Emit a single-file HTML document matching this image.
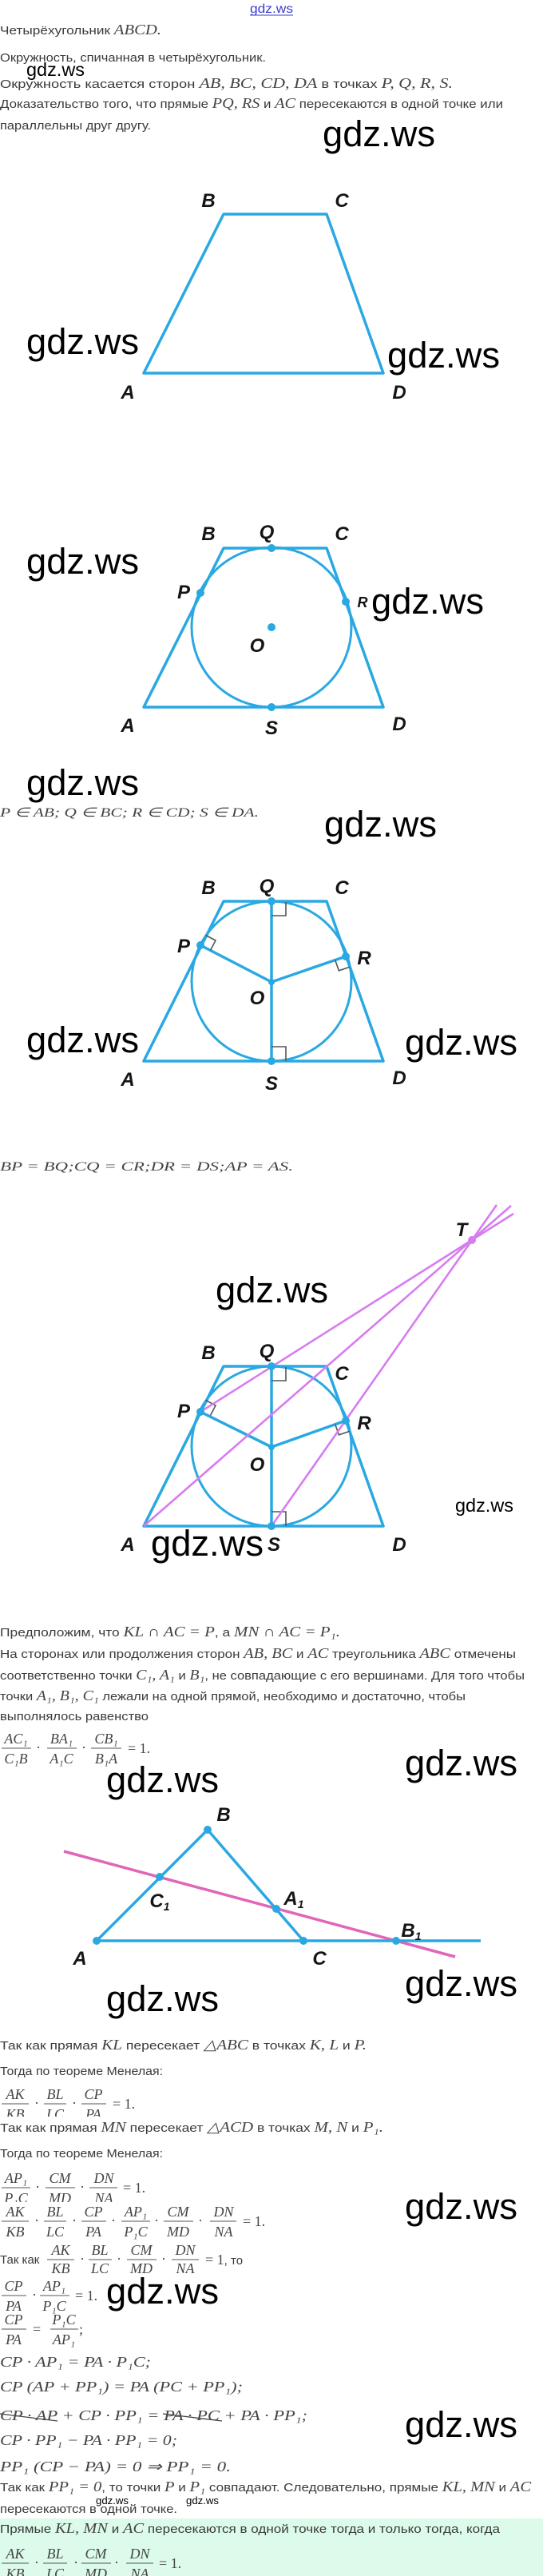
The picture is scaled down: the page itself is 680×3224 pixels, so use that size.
<!DOCTYPE html>
<html><head><meta charset="utf-8">
<style>
html,body{margin:0;padding:0;background:#fff;}
svg{display:block;}
.s{font-family:"Liberation Sans",sans-serif;font-size:15px;fill:#3a3a3a;}
.m{font-family:"Liberation Serif",serif;font-style:italic;font-size:18px;fill:#444;}
.n{font-family:"Liberation Serif",serif;font-style:normal;font-size:18px;fill:#444;}
.L{font-family:"Liberation Sans Narrow","Liberation Sans",sans-serif;font-style:italic;font-weight:bold;font-size:24px;fill:#151515;text-anchor:middle;}
.W{font-family:"Liberation Sans",sans-serif;fill:#000;}
.f{font-family:"Liberation Serif",serif;font-style:italic;font-size:18px;fill:#444;text-anchor:middle;}
.b{stroke:#2aa8e2;stroke-width:3.5;fill:none;stroke-linejoin:round;}
.c{stroke:#2aa8e2;stroke-width:3;fill:none;}
.d{fill:#2aa8e2;}
.v{stroke:#d77cf0;stroke-width:2.6;fill:none;}
.ra{stroke:#555;stroke-width:1.6;fill:none;}
.fb{stroke:#555;stroke-width:1;}
</style></head>
<body>
<svg width="680" height="3224" viewBox="0 0 680 3224" xmlns="http://www.w3.org/2000/svg">
<rect x="0" y="0" width="680" height="3224" fill="#fff"/>
<rect x="0" y="3152" width="680" height="72" fill="#dcfbea"/>

<!-- top link -->
<text x="313" y="16" font-family="Liberation Sans,sans-serif" font-size="16" fill="#3b3bd0" textLength="54" lengthAdjust="spacingAndGlyphs">gdz.ws</text>
<line x1="313" y1="19" x2="367" y2="19" stroke="#3b3bd0" stroke-width="1"/>

<!-- intro text -->
<text x="0" y="43" textLength="202" lengthAdjust="spacingAndGlyphs"><tspan class="s">Четырёхугольник </tspan><tspan class="m">ABCD.</tspan></text>
<text x="0" y="77" class="s" textLength="333" lengthAdjust="spacingAndGlyphs">Окружность, спичанная в четырёхугольник.</text>
<text x="0" y="110" textLength="567" lengthAdjust="spacingAndGlyphs"><tspan class="s">Окружность касается сторон </tspan><tspan class="m">AB, BC, CD, DA</tspan><tspan class="s"> в точках </tspan><tspan class="m">P, Q, R, S.</tspan></text>
<text x="0" y="135" textLength="630" lengthAdjust="spacingAndGlyphs"><tspan class="s">Доказательство того, что прямые </tspan><tspan class="m">PQ, RS</tspan><tspan class="s"> и </tspan><tspan class="m">AC</tspan><tspan class="s"> пересекаются в одной точке или</tspan></text>
<text x="0" y="162" class="s" textLength="189" lengthAdjust="spacingAndGlyphs">параллельны друг другу.</text>

<!-- Figure 1 -->
<polygon class="b" points="180,467 280,268 409,268 480,467"/>
<text class="L" x="261" y="259">B</text><text class="L" x="428" y="259">C</text>
<text class="L" x="160" y="499">A</text><text class="L" x="500" y="499">D</text>

<!-- Figure 2 -->
<polygon class="b" points="180,885 280,686 409,686 480,885"/>
<circle class="c" cx="340" cy="785" r="100"/>
<circle class="d" cx="340" cy="686" r="5"/><circle class="d" cx="251" cy="742" r="5"/>
<circle class="d" cx="433" cy="753" r="5"/><circle class="d" cx="340" cy="885" r="5"/>
<circle class="d" cx="340" cy="785" r="5"/>
<text class="L" x="261" y="676">B</text><text class="L" x="334" y="674">Q</text><text class="L" x="428" y="676">C</text>
<text class="L" x="230" y="749">P</text><text class="L" x="454" y="760" style="font-size:18px">R</text>
<text class="L" x="322" y="816">O</text>
<text class="L" x="160" y="916">A</text><text class="L" x="340" y="919">S</text><text class="L" x="500" y="914">D</text>

<text x="0" y="1022" class="m" textLength="324" lengthAdjust="spacingAndGlyphs" style="font-size:16px">P ∈ AB; Q ∈ BC; R ∈ CD; S ∈ DA.</text>

<!-- Figure 3 -->
<polygon class="b" points="180,1328 280,1128 409,1128 480,1328"/>
<circle class="c" cx="340" cy="1228" r="100"/>
<line class="b" x1="340" y1="1128" x2="340" y2="1328"/>
<polyline class="b" points="251,1183 340,1229 433,1197"/>
<path class="ra" d="M340,1146 H358 V1129 M340,1310 H358 V1328 M263.5,1189.4 L270,1177 L257.6,1170.5 M419.7,1201.6 L424.4,1214.8 L437.8,1210.2"/>
<circle class="d" cx="340" cy="1128" r="5"/><circle class="d" cx="251" cy="1183" r="5"/>
<circle class="d" cx="433" cy="1197" r="5"/><circle class="d" cx="340" cy="1328" r="5"/>
<circle class="d" cx="340" cy="1229" r="4"/>
<text class="L" x="261" y="1119">B</text><text class="L" x="334" y="1117">Q</text><text class="L" x="428" y="1119">C</text>
<text class="L" x="230" y="1192">P</text><text class="L" x="456" y="1207">R</text><text class="L" x="322" y="1257">O</text>
<text class="L" x="160" y="1359">A</text><text class="L" x="340" y="1364">S</text><text class="L" x="500" y="1357">D</text>

<text x="0" y="1465" class="m" textLength="367" lengthAdjust="spacingAndGlyphs" style="font-size:16px">BP = BQ;CQ = CR;DR = DS;AP = AS.</text>

<!-- Figure 4 -->
<polygon class="b" points="180,1910 280,1710 409,1710 480,1910"/>
<circle class="c" cx="340" cy="1810" r="100"/>
<line class="b" x1="340" y1="1710" x2="340" y2="1910"/>
<polyline class="b" points="251,1767 340,1811 433,1778"/>
<path class="ra" d="M340,1728 H358 V1711 M340,1892 H358 V1910 M263.5,1771.4 L270,1759 L257.6,1752.5 M419.7,1782.6 L424.4,1795.8 L437.8,1791.2"/>
<line class="v" x1="251" y1="1767" x2="643" y2="1519"/>
<line class="v" x1="180" y1="1910" x2="640" y2="1509"/>
<line class="v" x1="340" y1="1910" x2="622" y2="1508"/>
<circle cx="591" cy="1552" r="5" fill="#d77cf0"/>
<circle class="d" cx="340" cy="1710" r="5"/><circle class="d" cx="251" cy="1767" r="5"/>
<circle class="d" cx="433" cy="1778" r="5"/><circle class="d" cx="340" cy="1910" r="5"/>
<circle class="d" cx="340" cy="1811" r="4"/>
<text class="L" x="578" y="1547">T</text>
<text class="L" x="261" y="1701">B</text><text class="L" x="334" y="1699">Q</text><text class="L" x="428" y="1727">C</text>
<text class="L" x="230" y="1774">P</text><text class="L" x="456" y="1789">R</text><text class="L" x="322" y="1841">O</text>
<text class="L" x="160" y="1941">A</text><text class="L" x="343" y="1941">S</text><text class="L" x="500" y="1941">D</text>

<!-- Menelaus text -->
<text x="0" y="2048" textLength="426" lengthAdjust="spacingAndGlyphs"><tspan class="s">Предположим, что </tspan><tspan class="m">KL ∩ AC = P</tspan><tspan class="s">, а </tspan><tspan class="m">MN ∩ AC = P₁.</tspan></text>
<text x="0" y="2075" textLength="646" lengthAdjust="spacingAndGlyphs"><tspan class="s">На сторонах или продолжения сторон </tspan><tspan class="m">AB, BC</tspan><tspan class="s"> и </tspan><tspan class="m">AC</tspan><tspan class="s"> треугольника </tspan><tspan class="m">ABC</tspan><tspan class="s"> отмечены</tspan></text>
<text x="0" y="2102" textLength="657" lengthAdjust="spacingAndGlyphs"><tspan class="s">соответственно точки </tspan><tspan class="m">C₁, A₁</tspan><tspan class="s"> и </tspan><tspan class="m">B₁</tspan><tspan class="s">, не совпадающие с его вершинами. Для того чтобы</tspan></text>
<text x="0" y="2128" textLength="583" lengthAdjust="spacingAndGlyphs"><tspan class="s">точки </tspan><tspan class="m">A₁, B₁, C₁</tspan><tspan class="s"> лежали на одной прямой, необходимо и достаточно, чтобы</tspan></text>
<text x="0" y="2153" class="s" textLength="186" lengthAdjust="spacingAndGlyphs">выполнялось равенство</text>
<!-- frac 1 -->
<g>
<text class="f" x="20" y="2182">AC₁</text><line class="fb" x1="2" y1="2188" x2="39" y2="2188"/><text class="f" x="20" y="2207">C₁B</text>
<text class="n" x="45" y="2193">·</text>
<text class="f" x="77" y="2182">BA₁</text><line class="fb" x1="59" y1="2188" x2="96" y2="2188"/><text class="f" x="77" y="2207">A₁C</text>
<text class="n" x="102" y="2193">·</text>
<text class="f" x="133" y="2182">CB₁</text><line class="fb" x1="114" y1="2188" x2="152" y2="2188"/><text class="f" x="133" y="2207">B₁A</text>
<text class="n" x="160" y="2194">= 1.</text>
</g>

<!-- Figure 5 -->
<line x1="80" y1="2317" x2="570" y2="2449" stroke="#e066b8" stroke-width="3.5"/>
<polyline class="b" points="121,2429 260,2290 380,2429"/>
<line class="b" x1="121" y1="2429" x2="602" y2="2429"/>
<circle class="d" cx="260" cy="2290" r="5"/><circle class="d" cx="121" cy="2429" r="5"/>
<circle class="d" cx="380" cy="2429" r="5"/><circle class="d" cx="200" cy="2349" r="5"/>
<circle class="d" cx="346" cy="2389" r="5"/><circle class="d" cx="496" cy="2429" r="5"/>
<text class="L" x="280" y="2279">B</text>
<text class="L" x="200" y="2387">C<tspan style="font-size:14px" dy="4">1</tspan></text>
<text class="L" x="368" y="2384">A<tspan style="font-size:14px" dy="4">1</tspan></text>
<text class="L" x="515" y="2424">B<tspan style="font-size:14px" dy="4">1</tspan></text>
<text class="L" x="100" y="2459">A</text><text class="L" x="400" y="2459">C</text>

<!-- text after fig 5 -->
<text x="0" y="2565" textLength="459" lengthAdjust="spacingAndGlyphs"><tspan class="s">Так как прямая </tspan><tspan class="m">KL</tspan><tspan class="s"> пересекает </tspan><tspan class="m">△ABC</tspan><tspan class="s"> в точках </tspan><tspan class="m">K, L</tspan><tspan class="s"> и </tspan><tspan class="m">P.</tspan></text>
<text x="0" y="2597" class="s" textLength="204" lengthAdjust="spacingAndGlyphs">Тогда по теореме Менелая:</text>
<!-- frac 2 -->
<text class="f" x="19" y="2627">AK</text><line class="fb" x1="2" y1="2633" x2="36" y2="2633"/><text class="f" x="19" y="2652">KB</text>
<text class="n" x="43" y="2638">·</text>
<text class="f" x="69" y="2627">BL</text><line class="fb" x1="55" y1="2633" x2="83" y2="2633"/><text class="f" x="69" y="2652">LC</text>
<text class="n" x="90" y="2638">·</text>
<text class="f" x="117" y="2627">CP</text><line class="fb" x1="102" y1="2633" x2="133" y2="2633"/><text class="f" x="117" y="2652">PA</text>
<text class="n" x="141" y="2639">= 1.</text>
<rect x="0" y="2649" width="300" height="24" fill="#fff"/>
<text x="0" y="2668" textLength="480" lengthAdjust="spacingAndGlyphs"><tspan class="s">Так как прямая </tspan><tspan class="m">MN</tspan><tspan class="s"> пересекает </tspan><tspan class="m">△ACD</tspan><tspan class="s"> в точках </tspan><tspan class="m">M, N</tspan><tspan class="s"> и </tspan><tspan class="m">P₁.</tspan></text>
<text x="0" y="2700" class="s" textLength="204" lengthAdjust="spacingAndGlyphs">Тогда по теореме Менелая:</text>
<!-- frac 3 -->
<text class="f" x="20" y="2732">AP₁</text><line class="fb" x1="2" y1="2738" x2="38" y2="2738"/><text class="f" x="20" y="2757">P₁C</text>
<text class="n" x="44" y="2743">·</text>
<text class="f" x="75" y="2732">CM</text><line class="fb" x1="57" y1="2738" x2="94" y2="2738"/><text class="f" x="75" y="2757">MD</text>
<text class="n" x="100" y="2743">·</text>
<text class="f" x="130" y="2732">DN</text><line class="fb" x1="112" y1="2738" x2="147" y2="2738"/><text class="f" x="130" y="2757">NA</text>
<text class="n" x="154" y="2744">= 1.</text>
<rect x="0" y="2756" width="320" height="6" fill="#fff"/>
<!-- frac 4 -->
<text class="f" x="19" y="2774">AK</text><line class="fb" x1="2" y1="2780" x2="36" y2="2780"/><text class="f" x="19" y="2799">KB</text>
<text class="n" x="43" y="2785">·</text>
<text class="f" x="69" y="2774">BL</text><line class="fb" x1="55" y1="2780" x2="83" y2="2780"/><text class="f" x="69" y="2799">LC</text>
<text class="n" x="90" y="2785">·</text>
<text class="f" x="117" y="2774">CP</text><line class="fb" x1="102" y1="2780" x2="133" y2="2780"/><text class="f" x="117" y="2799">PA</text>
<text class="n" x="139" y="2785">·</text>
<text class="f" x="170" y="2774">AP₁</text><line class="fb" x1="152" y1="2780" x2="188" y2="2780"/><text class="f" x="170" y="2799">P₁C</text>
<text class="n" x="193" y="2785">·</text>
<text class="f" x="223" y="2774">CM</text><line class="fb" x1="205" y1="2780" x2="242" y2="2780"/><text class="f" x="223" y="2799">MD</text>
<text class="n" x="248" y="2785">·</text>
<text class="f" x="280" y="2774">DN</text><line class="fb" x1="263" y1="2780" x2="296" y2="2780"/><text class="f" x="280" y="2799">NA</text>
<text class="n" x="304" y="2786">= 1.</text>
<!-- frac 5 -->
<text x="0" y="2833" class="s">Так как</text>
<text class="f" x="76" y="2822">AK</text><line class="fb" x1="59" y1="2828" x2="93" y2="2828"/><text class="f" x="76" y="2845">KB</text>
<text class="n" x="100" y="2833">·</text>
<text class="f" x="125" y="2822">BL</text><line class="fb" x1="111" y1="2828" x2="140" y2="2828"/><text class="f" x="125" y="2845">LC</text>
<text class="n" x="146" y="2833">·</text>
<text class="f" x="177" y="2822">CM</text><line class="fb" x1="159" y1="2828" x2="196" y2="2828"/><text class="f" x="177" y="2845">MD</text>
<text class="n" x="202" y="2833">·</text>
<text class="f" x="232" y="2822">DN</text><line class="fb" x1="215" y1="2828" x2="249" y2="2828"/><text class="f" x="232" y="2845">NA</text>
<text x="257" y="2834"><tspan class="n">= 1</tspan><tspan class="s">, то</tspan></text>
<!-- frac 6 -->
<text class="f" x="17" y="2867">CP</text><line class="fb" x1="2" y1="2873" x2="33" y2="2873"/><text class="f" x="17" y="2892">PA</text>
<text class="n" x="40" y="2878">·</text>
<text class="f" x="68" y="2867">AP₁</text><line class="fb" x1="50" y1="2873" x2="87" y2="2873"/><text class="f" x="68" y="2892">P₁C</text>
<text class="n" x="94" y="2879">= 1.</text>
<!-- frac 7 -->
<text class="f" x="17" y="2909">CP</text><line class="fb" x1="2" y1="2915" x2="33" y2="2915"/><text class="f" x="17" y="2934">PA</text>
<text class="n" x="41" y="2921">=</text>
<text class="f" x="80" y="2909">P₁C</text><line class="fb" x1="63" y1="2915" x2="98" y2="2915"/><text class="f" x="80" y="2934">AP₁</text>
<text class="n" x="99" y="2921">;</text>

<text x="0" y="2962" class="m" textLength="189" lengthAdjust="spacingAndGlyphs">CP · AP₁ = PA · P₁C;</text>
<text x="0" y="2993" class="m" textLength="304" lengthAdjust="spacingAndGlyphs">CP (AP + PP₁) = PA (PC + PP₁);</text>
<text x="0" y="3029" class="m" textLength="385" lengthAdjust="spacingAndGlyphs">CP · AP + CP · PP₁ = PA · PC + PA · PP₁;</text>
<path d="M0,3021 L72,3030 M204,3021 L278,3030" stroke="#444" stroke-width="1.3" fill="none"/>
<text x="0" y="3060" class="m" textLength="222" lengthAdjust="spacingAndGlyphs">CP · PP₁ − PA · PP₁ = 0;</text>
<text x="0" y="3093" class="m" textLength="289" lengthAdjust="spacingAndGlyphs">PP₁ (CP − PA) = 0 ⇒ PP₁ = 0.</text>
<text x="0" y="3118" textLength="665" lengthAdjust="spacingAndGlyphs"><tspan class="s">Так как </tspan><tspan class="m">PP₁ = 0</tspan><tspan class="s">, то точки </tspan><tspan class="m">P</tspan><tspan class="s"> и </tspan><tspan class="m">P₁</tspan><tspan class="s"> совпадают. Следовательно, прямые </tspan><tspan class="m">KL, MN</tspan><tspan class="s"> и </tspan><tspan class="m">AC</tspan></text>
<text x="0" y="3145" class="s" textLength="222" lengthAdjust="spacingAndGlyphs">пересекаются в одной точке.</text>
<text x="0" y="3170" textLength="626" lengthAdjust="spacingAndGlyphs"><tspan class="s">Прямые </tspan><tspan class="m">KL, MN</tspan><tspan class="s"> и </tspan><tspan class="m">AC</tspan><tspan class="s"> пересекаются в одной точке тогда и только тогда, когда</tspan></text>
<!-- frac 8 -->
<text class="f" x="19" y="3202">AK</text><line class="fb" x1="2" y1="3208" x2="36" y2="3208"/><text class="f" x="19" y="3227">KB</text>
<text class="n" x="43" y="3213">·</text>
<text class="f" x="69" y="3202">BL</text><line class="fb" x1="54" y1="3208" x2="84" y2="3208"/><text class="f" x="69" y="3227">LC</text>
<text class="n" x="92" y="3213">·</text>
<text class="f" x="120" y="3202">CM</text><line class="fb" x1="102" y1="3208" x2="139" y2="3208"/><text class="f" x="120" y="3227">MD</text>
<text class="n" x="143" y="3213">·</text>
<text class="f" x="175" y="3202">DN</text><line class="fb" x1="158" y1="3208" x2="192" y2="3208"/><text class="f" x="175" y="3227">NA</text>
<text class="n" x="199" y="3214">= 1.</text>

<!-- watermarks -->
<g class="W">
<text x="33" y="95" font-size="23" textLength="73" lengthAdjust="spacingAndGlyphs">gdz.ws</text>
<text x="404" y="183" font-size="45" textLength="141" lengthAdjust="spacingAndGlyphs">gdz.ws</text>
<text x="33" y="443" font-size="45" textLength="141" lengthAdjust="spacingAndGlyphs">gdz.ws</text>
<text x="485" y="460" font-size="45" textLength="141" lengthAdjust="spacingAndGlyphs">gdz.ws</text>
<text x="33" y="718" font-size="45" textLength="141" lengthAdjust="spacingAndGlyphs">gdz.ws</text>
<text x="465" y="768" font-size="45" textLength="141" lengthAdjust="spacingAndGlyphs">gdz.ws</text>
<text x="33" y="995" font-size="45" textLength="141" lengthAdjust="spacingAndGlyphs">gdz.ws</text>
<text x="406" y="1047" font-size="45" textLength="141" lengthAdjust="spacingAndGlyphs">gdz.ws</text>
<text x="33" y="1317" font-size="45" textLength="141" lengthAdjust="spacingAndGlyphs">gdz.ws</text>
<text x="507" y="1320" font-size="45" textLength="141" lengthAdjust="spacingAndGlyphs">gdz.ws</text>
<text x="270" y="1630" font-size="45" textLength="141" lengthAdjust="spacingAndGlyphs">gdz.ws</text>
<text x="570" y="1892" font-size="23" textLength="73" lengthAdjust="spacingAndGlyphs">gdz.ws</text>
<text x="189" y="1947" font-size="45" textLength="141" lengthAdjust="spacingAndGlyphs">gdz.ws</text>
<text x="507" y="2222" font-size="45" textLength="141" lengthAdjust="spacingAndGlyphs">gdz.ws</text>
<text x="133" y="2243" font-size="45" textLength="141" lengthAdjust="spacingAndGlyphs">gdz.ws</text>
<text x="507" y="2498" font-size="45" textLength="141" lengthAdjust="spacingAndGlyphs">gdz.ws</text>
<text x="133" y="2517" font-size="45" textLength="141" lengthAdjust="spacingAndGlyphs">gdz.ws</text>
<text x="507" y="2777" font-size="45" textLength="141" lengthAdjust="spacingAndGlyphs">gdz.ws</text>
<text x="133" y="2883" font-size="45" textLength="141" lengthAdjust="spacingAndGlyphs">gdz.ws</text>
<text x="507" y="3050" font-size="45" textLength="141" lengthAdjust="spacingAndGlyphs">gdz.ws</text>
<text x="120" y="3134" font-size="13" textLength="41" lengthAdjust="spacingAndGlyphs">gdz.ws</text>
<text x="233" y="3134" font-size="13" textLength="41" lengthAdjust="spacingAndGlyphs">gdz.ws</text>
</g>
</svg>
</body></html>
